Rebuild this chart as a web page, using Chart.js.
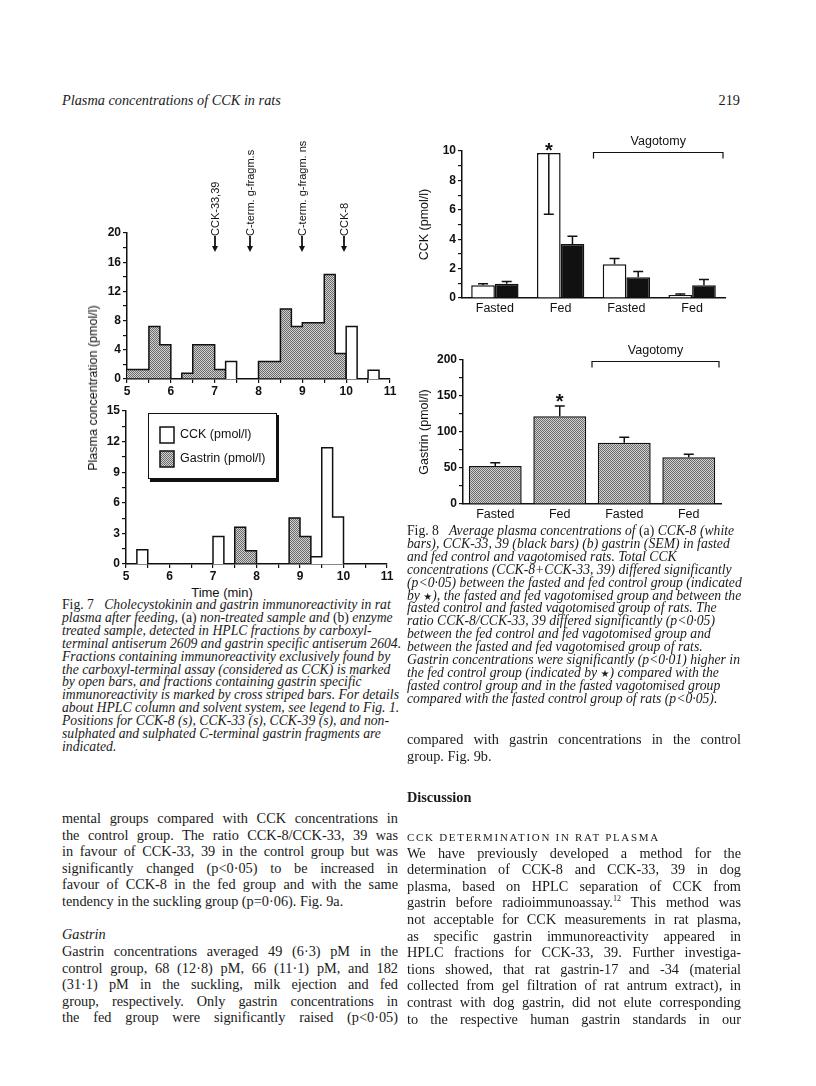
<!DOCTYPE html>
<html>
<head>
<meta charset="utf-8">
<script src="https://cdn.jsdelivr.net/npm/chart.js@4.4.1/dist/chart.umd.min.js"></script>
<style>
  body { margin: 0; background: #fff; }
  #page { position: relative; width: 816px; height: 1086px; overflow: hidden; background: #fff; color: #1a1a1a; font-family: "Liberation Serif", "Times New Roman", serif; }
  canvas { position: absolute; }
  .ln { position: absolute; white-space: nowrap; line-height: 16px; height: 16px; }
  .cap { font-style: italic; font-size: 13.7px; }
  .up { font-style: normal; }
  .body { font-size: 14.3px; }
  .j { text-align: justify; text-align-last: justify; }
  .star { font-family: "DejaVu Sans", sans-serif; font-style: normal; font-size: 10px; }
  .sans { position: absolute; font-family: "Liberation Sans", Arial, sans-serif; white-space: nowrap; color: #111; }
</style>
</head>
<body>
<div id="page">
  <canvas id="fig7a" width="340" height="279" style="left:60px;top:120px"></canvas>
  <canvas id="fig7b" width="340" height="184" style="left:60px;top:400px"></canvas>
  <canvas id="fig8a" width="330" height="203" style="left:405px;top:115px"></canvas>
  <canvas id="fig8b" width="330" height="199" style="left:405px;top:325px"></canvas>
  <div class="sans" style="left:93px;top:388px;font-size:12.5px;transform:translate(-50%,-50%) rotate(-90deg)">Plasma concentration (pmol/l)</div>
  <div class="sans" style="left:222px;top:592px;font-size:13px;transform:translate(-50%,-50%)">Time (min)</div>
</div>
<script>
// Fig. 7: HPLC fractions, 0.25 min each, from 5 to 11 min
const fractionEdges = [5, 5.25, 5.5, 5.75, 6, 6.25, 6.5, 6.75, 7, 7.25, 7.5, 7.75, 8, 8.25, 8.5, 8.75, 9, 9.25, 9.5, 9.75, 10, 10.25, 10.5, 10.75, 11];
const gastrinA = [1.3, 1.3, 7.2, 4.7, 0, 0.8, 4.7, 4.7, 1.3, 0, 0, 0, 2.4, 2.4, 9.6, 7.2, 7.7, 7.7, 14.3, 3.5, 0, 0, 0, 0];
const cckA = [0, 0, 0, 0, 0, 0, 0, 0, 0, 2.4, 0, 0, 0, 0, 0, 0, 0, 0, 0, 0, 7.2, 0, 1.2, 0];
const gastrinB = [0, 0, 0, 0, 0, 0, 0, 0, 0, 0, 3.6, 1.3, 0, 0, 0, 4.5, 2.7, 0, 0, 0, 0, 0, 0, 0];
const cckB = [0, 1.4, 0, 0, 0, 0, 0, 0, 2.7, 0, 0, 0, 0, 0, 0, 0, 0, 0.7, 11.4, 4.6, 0, 0, 0, 0];
const markerTimes = [7.0, 7.8, 9.0, 9.95];
const markerLabels = ["CCK-33,39", "C-term. g-fragm.s", "C-term. g-fragm. ns", "CCK-8"];

// Fig. 8: group means and SEM
const groups = ["Fasted", "Fed", "Fasted", "Fed"];
const cck8 = [0.86, 9.86, 2.3, 0.2];
const cck8Sem = [0.11, 4.16, 0.39, 0.07];
const cck8SemDown = [false, true, false, false];
const cck3339 = [0.97, 3.68, 1.42, 0.86];
const cck3339Sem = [0.16, 0.52, 0.38, 0.4];
const gastrin = [52.8, 122, 85, 64.8];
const gastrinSem = [4.6, 14, 7.6, 4.2];

const INK = "#111";
Chart.defaults.font.family = '"Liberation Sans", Arial, sans-serif';
Chart.defaults.color = INK;

// stippled grey fill used for gastrin
const pc = document.createElement("canvas");
pc.width = 2; pc.height = 2;
const pctx = pc.getContext("2d");
pctx.fillStyle = "#d2d2d2"; pctx.fillRect(0, 0, 2, 2);
pctx.fillStyle = "#6a6a6a"; pctx.fillRect(0, 0, 1, 1); pctx.fillRect(1, 1, 1, 1);
const stipple = pctx.createPattern(pc, "repeat");

function steps(vals) {
  const pts = vals.map((v, i) => ({ x: fractionEdges[i], y: v }));
  pts.push({ x: fractionEdges[vals.length], y: 0 });
  return pts;
}

const isMultiple = (v, m) => Math.abs(v / m - Math.round(v / m)) < 1e-6;

function axisBits() {
  return {
    grid: { drawOnChartArea: false, drawTicks: true, tickLength: 4, color: INK, lineWidth: 1.2 },
    border: { color: INK, width: 1.5 }
  };
}

function histOptions(yMax, yStep, yLabelEvery, yWidth, pad) {
  return {
    responsive: false,
    animation: false,
    layout: { padding: pad },
    plugins: { legend: { display: false }, tooltip: { enabled: false } },
    elements: { point: { radius: 0 }, line: { borderWidth: 1.5, borderColor: INK, tension: 0 } },
    scales: {
      x: {
        type: "linear", min: 5, max: 11,
        ticks: {
          stepSize: 0.5, autoSkip: false, maxTicksLimit: 30, maxRotation: 0, padding: 1,
          font: { size: 12, weight: "bold" },
          callback: v => (isMultiple(v, 1) ? v : "")
        },
        ...axisBits(),
        afterFit: s => { s.height = 20; }
      },
      y: {
        min: 0, max: yMax,
        ticks: {
          stepSize: yStep, autoSkip: false, maxTicksLimit: 30, padding: 2,
          font: { size: 12, weight: "bold" },
          callback: v => (isMultiple(v, yLabelEvery) ? v : "")
        },
        ...axisBits(),
        afterFit: s => { s.width = yWidth; }
      }
    }
  };
}

function histSets(gas, cck) {
  return [
    { label: "CCK (pmol/l)", data: steps(cck), stepped: true, fill: "origin", backgroundColor: "#fff" },
    { label: "Gastrin (pmol/l)", data: steps(gas), stepped: true, fill: "origin", backgroundColor: stipple }
  ];
}

const markerPlugin = {
  id: "markers",
  afterDraw(chart) {
    const ctx = chart.ctx, xs = chart.scales.x;
    const tip = chart.chartArea.top + 19;
    ctx.save();
    ctx.fillStyle = INK; ctx.strokeStyle = INK;
    ctx.font = '11px "Liberation Sans", Arial, sans-serif';
    markerTimes.forEach((t, i) => {
      const x = Math.round(xs.getPixelForValue(t));
      ctx.lineWidth = 1.8;
      ctx.beginPath(); ctx.moveTo(x, tip - 16); ctx.lineTo(x, tip - 5); ctx.stroke();
      ctx.beginPath(); ctx.moveTo(x - 3, tip - 6); ctx.lineTo(x + 3, tip - 6); ctx.lineTo(x, tip); ctx.closePath(); ctx.fill();
      ctx.save();
      ctx.translate(x, tip - 16);
      ctx.rotate(-Math.PI / 2);
      ctx.textAlign = "left"; ctx.textBaseline = "middle";
      ctx.fillText(markerLabels[i], 0, 1);
      ctx.restore();
    });
    ctx.restore();
  }
};

const legendPlugin = {
  id: "boxLegend",
  afterDraw(chart) {
    const ctx = chart.ctx, a = chart.chartArea;
    const bx = a.left + 22, by = a.top + 2, bw = 129, bh = 66;
    ctx.save();
    ctx.fillStyle = INK; ctx.fillRect(bx + 2, by + 2, bw, bh + 1);
    ctx.fillStyle = "#fff"; ctx.fillRect(bx, by, bw, bh);
    ctx.strokeStyle = INK; ctx.lineWidth = 1; ctx.strokeRect(bx + 0.5, by + 0.5, bw - 1, bh - 1);
    const items = chart.data.datasets;
    ctx.font = '12.5px "Liberation Sans", Arial, sans-serif';
    ctx.textBaseline = "middle";
    items.forEach((ds, i) => {
      const sy = by + 14 + i * 24;
      ctx.fillStyle = ds.backgroundColor; ctx.fillRect(bx + 12, sy, 14, 16);
      ctx.lineWidth = 1.5; ctx.strokeRect(bx + 12, sy, 14, 16);
      ctx.fillStyle = INK; ctx.fillText(ds.label, bx + 32, sy + 8);
    });
    ctx.restore();
  }
};

new Chart(document.getElementById("fig7a"), {
  type: "line",
  data: { datasets: histSets(gastrinA, cckA) },
  options: histOptions(20, 2, 4, 67, { top: 113, right: 10, left: 0, bottom: 0 }),
  plugins: [markerPlugin]
});

new Chart(document.getElementById("fig7b"), {
  type: "line",
  data: { datasets: histSets(gastrinB, cckB) },
  options: histOptions(15, 1.5, 3, 66, { top: 11, right: 13, left: 0, bottom: 0 }),
  plugins: [legendPlugin]
});

// error bars, star and vagotomy bracket for Fig. 8
const errorBars = {
  id: "errorBars",
  afterDatasetsDraw(chart) {
    const ctx = chart.ctx, ys = chart.scales.y;
    ctx.save(); ctx.strokeStyle = INK; ctx.lineWidth = 1.5;
    chart.data.datasets.forEach((ds, di) => {
      chart.getDatasetMeta(di).data.forEach((bar, i) => {
        const down = ds.errorsDown && ds.errorsDown[i];
        const end = ys.getPixelForValue(down ? ds.data[i] - ds.errors[i] : ds.data[i] + ds.errors[i]);
        ctx.beginPath();
        ctx.moveTo(bar.x, bar.y); ctx.lineTo(bar.x, end);
        ctx.moveTo(bar.x - 5, end); ctx.lineTo(bar.x + 5, end);
        ctx.stroke();
      });
    });
    ctx.restore();
  }
};

const vagotomy = {
  id: "vagotomy",
  afterDraw(chart) {
    const ctx = chart.ctx, xs = chart.scales.x, ys = chart.scales.y, a = chart.chartArea;
    ctx.save();
    ctx.strokeStyle = INK; ctx.fillStyle = INK; ctx.lineWidth = 1.2;
    const left = (xs.getPixelForValue(1) + xs.getPixelForValue(2)) / 2;
    const right = a.right - 2;
    const y = a.top + 1.5;
    ctx.beginPath();
    ctx.moveTo(left, y + 6); ctx.lineTo(left, y); ctx.lineTo(right, y); ctx.lineTo(right, y + 6);
    ctx.stroke();
    ctx.font = '12.5px "Liberation Sans", Arial, sans-serif';
    ctx.textAlign = "center"; ctx.textBaseline = "middle";
    ctx.fillText("Vagotomy", (left + right) / 2, y - 11);
    // star over the fed control group
    const ds = chart.data.datasets[0];
    const bar = chart.getDatasetMeta(0).data[1];
    const down = ds.errorsDown && ds.errorsDown[1];
    const top = down ? bar.y : ys.getPixelForValue(ds.data[1] + ds.errors[1]);
    ctx.font = 'bold 20px "Liberation Sans", Arial, sans-serif';
    ctx.textBaseline = "alphabetic";
    ctx.fillText("*", bar.x, top + (down ? 4 : 2));
    ctx.restore();
  }
};

function barOptions(yMax, yStep, yLabelEvery, yWidth, title, pad, catPct) {
  return {
    responsive: false,
    animation: false,
    layout: { padding: pad },
    plugins: { legend: { display: false }, tooltip: { enabled: false } },
    datasets: { bar: { categoryPercentage: catPct, barPercentage: 1 } },
    scales: {
      x: {
        ticks: { font: { size: 12.5 }, padding: 3 },
        grid: { display: false, drawTicks: false },
        border: { color: INK, width: 1.5 },
        afterFit: s => { s.height = 20; }
      },
      y: {
        min: 0, max: yMax,
        ticks: {
          stepSize: yStep, autoSkip: false, padding: 2,
          font: { size: 12, weight: "bold" },
          callback: v => (isMultiple(v, yLabelEvery) ? v : "")
        },
        title: { display: true, text: title, font: { size: 12.5 }, padding: { top: 12.5, bottom: 0 } },
        ...axisBits(),
        afterFit: s => { s.width = yWidth; }
      }
    }
  };
}

new Chart(document.getElementById("fig8a"), {
  type: "bar",
  data: {
    labels: groups,
    datasets: [
      { label: "CCK-8", data: cck8, errors: cck8Sem, errorsDown: cck8SemDown, backgroundColor: "#fff", borderColor: INK, borderWidth: 1.5 },
      { label: "CCK-33, 39", data: cck3339, errors: cck3339Sem, backgroundColor: INK, borderColor: INK, borderWidth: 1.5 }
    ]
  },
  options: barOptions(10, 1, 2, 57, "CCK (pmol/l)", { top: 36, right: 10, left: 0, bottom: 0 }, 0.72),
  plugins: [errorBars, vagotomy]
});

new Chart(document.getElementById("fig8b"), {
  type: "bar",
  data: {
    labels: groups,
    datasets: [
      { label: "Gastrin", data: gastrin, errors: gastrinSem, backgroundColor: stipple, borderColor: INK, borderWidth: 1.5 }
    ]
  },
  options: barOptions(200, 25, 50, 58, "Gastrin (pmol/l)", { top: 35, right: 14, left: 0, bottom: 0 }, 0.82),
  plugins: [errorBars, vagotomy]
});

// page text
const page = document.getElementById("page");
function place(lines, x, y0, step, w, cls, justify, lastLines) {
  lines.forEach((html, i) => {
    const d = document.createElement("div");
    d.className = "ln " + cls;
    if (justify && !(lastLines || []).includes(i)) d.classList.add("j");
    d.style.left = x + "px";
    d.style.top = (y0 + i * step - 8) + "px";
    d.style.width = w + "px";
    d.innerHTML = html;
    page.appendChild(d);
  });
}

place(['<i>Plasma concentrations of CCK in rats</i>'], 62, 100, 0, 300, "body", false);
place(['219'], 640, 100, 0, 100, "body", false);
document.querySelector("#page > div.ln:last-child").style.textAlign = "right";

const STAR = '<span class="star">★</span>';
place([
  '<span class="up">Fig. 7</span>&ensp; Cholecystokinin and gastrin immunoreactivity in rat',
  'plasma after feeding, <span class="up">(a)</span> non-treated sample and <span class="up">(b)</span> enzyme',
  'treated sample, detected in HPLC fractions by carboxyl-',
  'terminal antiserum 2609 and gastrin specific antiserum 2604.',
  'Fractions containing immunoreactivity exclusively found by',
  'the carboxyl-terminal assay (considered as CCK) is marked',
  'by open bars, and fractions containing gastrin specific',
  'immunoreactivity is marked by cross striped bars. For details',
  'about HPLC column and solvent system, see legend to Fig. 1.',
  'Positions for CCK-8 (s), CCK-33 (s), CCK-39 (s), and non-',
  'sulphated and sulphated C-terminal gastrin fragments are',
  'indicated.'
], 62, 605, 12.9, 345, "cap", false);

place([
  '<span class="up">Fig. 8</span>&ensp; Average plasma concentrations of <span class="up">(a)</span> CCK-8 (white',
  'bars), CCK-33, 39 (black bars) (b) gastrin (SEM) in fasted',
  'and fed control and vagotomised rats. Total CCK',
  'concentrations (CCK-8+CCK-33, 39) differed significantly',
  '(p&lt;0·05) between the fasted and fed control group (indicated',
  'by ' + STAR + '), the fasted and fed vagotomised group and between the',
  'fasted control and fasted vagotomised group of rats. The',
  'ratio CCK-8/CCK-33, 39 differed significantly (p&lt;0·05)',
  'between the fed control and fed vagotomised group and',
  'between the fasted and fed vagotomised group of rats.',
  'Gastrin concentrations were significantly (p&lt;0·01) higher in',
  'the fed control group (indicated by ' + STAR + ') compared with the',
  'fasted control group and in the fasted vagotomised group',
  'compared with the fasted control group of rats (p&lt;0·05).'
], 407, 531, 12.9, 345, "cap", false);

place([
  'mental groups compared with CCK concentrations in',
  'the control group. The ratio CCK-8/CCK-33, 39 was',
  'in favour of CCK-33, 39 in the control group but was',
  'significantly changed (p&lt;0·05) to be increased in',
  'favour of CCK-8 in the fed group and with the same',
  'tendency in the suckling group (p=0·06). Fig. 9a.'
], 62, 818, 16.6, 336, "body", true, [5]);
place(['<i>Gastrin</i>'], 62, 934.4, 0, 336, "body", false);
place([
  'Gastrin concentrations averaged 49 (6·3) pM in the',
  'control group, 68 (12·8) pM, 66 (11·1) pM, and 182',
  '(31·1) pM in the suckling, milk ejection and fed',
  'group, respectively. Only gastrin concentrations in',
  'the fed group were significantly raised (p&lt;0·05)'
], 62, 951, 16.6, 336, "body", true);

place([
  'compared with gastrin concentrations in the control',
  'group. Fig. 9b.'
], 407, 739, 16.6, 334, "body", true, [1]);
place(['<b>Discussion</b>'], 407, 797, 0, 334, "body", false);
place(['<span style="font-size:11px;letter-spacing:1.7px">CCK DETERMINATION IN RAT PLASMA</span>'], 407, 836, 0, 334, "body", false);
place([
  'We have previously developed a method for the',
  'determination of CCK-8 and CCK-33, 39 in dog',
  'plasma, based on HPLC separation of CCK from',
  'gastrin before radioimmunoassay.<sup style="font-size:8px;line-height:0">12</sup> This method was',
  'not acceptable for CCK measurements in rat plasma,',
  'as specific gastrin immunoreactivity appeared in',
  'HPLC fractions for CCK-33, 39. Further investiga-',
  'tions showed, that rat gastrin-17 and -34 (material',
  'collected from gel filtration of rat antrum extract), in',
  'contrast with dog gastrin, did not elute corresponding',
  'to the respective human gastrin standards in our'
], 407, 852.5, 16.6, 334, "body", true);
</script>
</body>
</html>
